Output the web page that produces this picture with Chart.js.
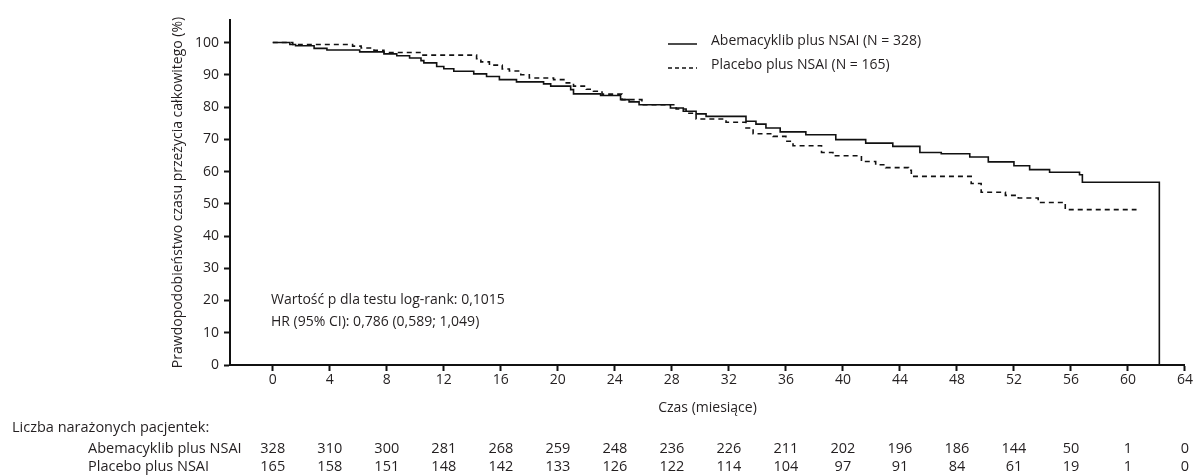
<!DOCTYPE html>
<html>
<head>
<meta charset="utf-8">
<script src="https://cdn.jsdelivr.net/npm/chart.js@4.4.0/dist/chart.umd.min.js"></script>
<style>
  html, body { margin: 0; padding: 0; background: #ffffff; }
  canvas { display: block; }
</style>
</head>
<body>
<canvas id="km" width="1194" height="475"></canvas>
<script>
// Kaplan-Meier survival estimates (months, % surviving)
const abemaMonths = [0, 1.2, 1.6, 2.9, 3.8, 6.1, 7.8, 8.7, 9.6, 10.4, 10.6, 11.5, 12.0, 12.7, 14.1, 15.0, 15.9, 17.1, 19.0, 19.5, 20.9, 21.1, 23.0, 24.4, 25.0, 25.7, 27.9, 28.8, 29.7, 30.4, 33.2, 33.9, 34.6, 35.6, 37.4, 39.5, 41.6, 43.5, 45.4, 46.9, 48.9, 50.2, 52.0, 53.1, 54.5, 56.6, 56.8, 62.2];
const abemaSurvival = [100, 99.4, 99.0, 98.2, 97.7, 97.1, 96.5, 95.9, 95.2, 94.4, 93.7, 92.6, 91.9, 91.1, 90.3, 89.5, 88.5, 87.8, 87.2, 86.5, 85.4, 84.1, 83.6, 82.3, 81.6, 80.7, 79.7, 78.7, 77.9, 77.1, 75.6, 74.7, 73.5, 72.3, 71.4, 69.9, 68.8, 67.8, 65.9, 65.5, 64.5, 63.0, 61.8, 60.6, 59.8, 59.0, 56.7, 0];

const placeboMonths = [0, 1.4, 5.6, 6.2, 7.1, 7.8, 10.4, 14.3, 14.6, 15.2, 16.1, 16.6, 17.4, 18.0, 19.7, 20.5, 21.1, 22.0, 22.5, 23.1, 24.5, 25.9, 28.3, 29.0, 29.7, 31.8, 33.2, 33.7, 35.1, 36.0, 36.5, 38.5, 39.3, 41.3, 42.3, 43.0, 44.6, 44.8, 49.0, 49.7, 51.4, 52.3, 53.7, 55.6, 60.6];
const placeboSurvival = [100, 99.4, 98.9, 98.3, 97.6, 96.9, 96.1, 95.0, 94.0, 93.0, 91.8, 91.2, 90.0, 89.0, 88.5, 87.5, 86.5, 85.5, 84.9, 84.0, 82.3, 80.7, 79.4, 78.1, 76.3, 75.3, 73.5, 71.7, 70.9, 69.4, 68.0, 65.9, 64.9, 63.1, 62.1, 61.2, 60.4, 58.5, 56.3, 53.6, 52.6, 51.8, 50.4, 48.2, 48.2];

// Axis ticks
const monthTicks = [0, 4, 8, 12, 16, 20, 24, 28, 32, 36, 40, 44, 48, 52, 56, 60, 64];
const survivalTicks = [0, 10, 20, 30, 40, 50, 60, 70, 80, 90, 100];

// Number at risk at each month tick
const riskAbema = [328, 310, 300, 281, 268, 259, 248, 236, 226, 211, 202, 196, 186, 144, 50, 1, 0];
const riskPlacebo = [165, 158, 151, 148, 142, 133, 126, 122, 114, 104, 97, 91, 84, 61, 19, 1, 0];

// Text
const seriesNames = ['Abemacyklib plus NSAI', 'Placebo plus NSAI'];
const legendLabels = ['Abemacyklib plus NSAI (N = 328)', 'Placebo plus NSAI (N = 165)'];
const statsLines = ['Wartość p dla testu log-rank: 0,1015', 'HR (95% CI): 0,786 (0,589; 1,049)'];
const xTitle = 'Czas (miesiące)';
const yTitle = 'Prawdopodobieństwo czasu przeżycia całkowitego (%)';
const riskTitle = 'Liczba narażonych pacjentek:';

const FONT = '"Open Sans", "Noto Sans", sans-serif';
const INK = '#231f20';

const toPoints = (xs, ys) => xs.map((x, i) => ({ x: x, y: ys[i] }));

const annotations = {
  id: 'annotations',
  afterDraw(chart) {
    const ctx = chart.ctx;
    const xs = chart.scales.x;
    const area = chart.chartArea;
    ctx.save();
    ctx.fillStyle = INK;
    ctx.font = '14px ' + FONT;
    ctx.textBaseline = 'middle';

    // Legend
    const legX = 668, legLen = 29, legTextX = 711;
    const legY = [41, 65];
    ctx.strokeStyle = '#111';
    ctx.lineWidth = 1.5;
    legY.forEach((y, i) => {
      ctx.setLineDash(i === 0 ? [] : [4, 3]);
      ctx.beginPath();
      ctx.moveTo(legX, y + 3);
      ctx.lineTo(legX + legLen, y + 3);
      ctx.stroke();
      ctx.textAlign = 'left';
      ctx.fillText(legendLabels[i], legTextX, y);
    });
    ctx.setLineDash([]);

    // Statistics
    ctx.textAlign = 'left';
    statsLines.forEach((t, i) => ctx.fillText(t, 271, 300 + i * 22));

    // X axis title
    ctx.textAlign = 'center';
    ctx.fillText(xTitle, (area.left + area.right) / 2, 408);

    // Y axis title
    ctx.save();
    ctx.translate(178, (area.top + area.bottom) / 2);
    ctx.rotate(-Math.PI / 2);
    ctx.textAlign = 'center';
    ctx.fillText(yTitle, 0, 0);
    ctx.restore();

    // Number at risk table
    ctx.font = '14.5px ' + FONT;
    ctx.textAlign = 'left';
    ctx.fillText(riskTitle, 12, 428);
    ctx.fillText(seriesNames[0], 88, 449);
    ctx.fillText(seriesNames[1], 88, 467);
    ctx.textAlign = 'center';
    monthTicks.forEach((m, i) => {
      const px = xs.getPixelForValue(m);
      ctx.fillText(String(riskAbema[i]), px, 449);
      ctx.fillText(String(riskPlacebo[i]), px, 467);
    });
    ctx.restore();
  }
};

new Chart(document.getElementById('km'), {
  type: 'line',
  data: {
    datasets: [
      {
        label: seriesNames[0],
        data: toPoints(abemaMonths, abemaSurvival),
        borderColor: '#111',
        borderWidth: 1.6,
        stepped: 'before',
        pointRadius: 0,
        fill: false
      },
      {
        label: seriesNames[1],
        data: toPoints(placeboMonths, placeboSurvival),
        borderColor: '#111',
        borderWidth: 1.6,
        borderDash: [5, 4],
        stepped: 'before',
        pointRadius: 0,
        fill: false
      }
    ]
  },
  options: {
    responsive: false,
    animation: false,
    layout: { padding: { top: 20, right: 8, left: 0, bottom: 0 } },
    plugins: {
      legend: { display: false },
      tooltip: { enabled: false }
    },
    scales: {
      x: {
        type: 'linear',
        min: -3,
        max: 64,
        afterBuildTicks(scale) { scale.ticks = monthTicks.map(v => ({ value: v })); },
        afterFit(scale) { scale.height = 110; },
        border: { display: true, color: '#111', width: 2 },
        grid: { drawOnChartArea: false, drawTicks: true, tickLength: 6, tickWidth: 2, tickColor: '#111' },
        ticks: { color: INK, font: { family: FONT, size: 14 }, padding: 1, maxRotation: 0, autoSkip: false }
      },
      y: {
        type: 'linear',
        min: 0,
        max: 107,
        afterBuildTicks(scale) { scale.ticks = survivalTicks.map(v => ({ value: v })); },
        afterFit(scale) { scale.width = 230; },
        border: { display: true, color: '#111', width: 2 },
        grid: { drawOnChartArea: false, drawTicks: true, tickLength: 6, tickWidth: 2, tickColor: '#111' },
        ticks: { color: INK, font: { family: FONT, size: 14 }, padding: 5, autoSkip: false }
      }
    }
  },
  plugins: [annotations]
});
</script>
</body>
</html>
